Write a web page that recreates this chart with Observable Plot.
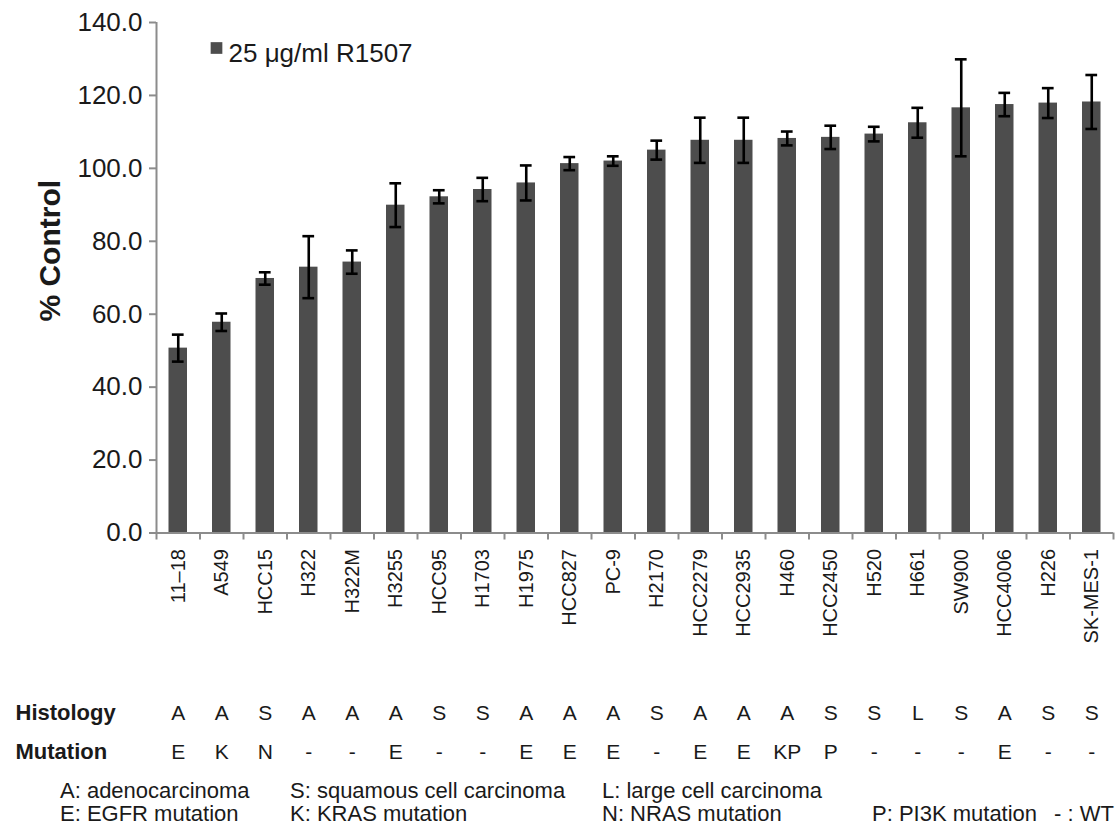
<!DOCTYPE html>
<html><head><meta charset="utf-8">
<script src="https://cdn.jsdelivr.net/npm/d3@7"></script>
<script src="https://cdn.jsdelivr.net/npm/@observablehq/plot@0.6"></script>
<style>
html,body{margin:0;padding:0;background:#fff;overflow:hidden;}
#wrap{position:relative;width:1119px;height:827px;font-family:"Liberation Sans",Arial,sans-serif;overflow:hidden;}
.foot{position:absolute;font-size:22px;color:#1a1a1a;white-space:nowrap;line-height:22px;}
</style></head><body><div id="wrap"></div>
<script>
const cellLines = ["11–18","A549","HCC15","H322","H322M","H3255","HCC95","H1703","H1975","HCC827","PC-9","H2170","HCC2279","HCC2935","H460","HCC2450","H520","H661","SW900","HCC4006","H226","SK-MES-1"];
const control = [50.7, 57.8, 69.8, 72.9, 74.3, 89.9, 92.2, 94.2, 96.0, 101.3, 102.0, 105.0, 107.7, 107.7, 108.2, 108.5, 109.4, 112.5, 116.6, 117.5, 117.9, 118.2];
const errorSD = [3.7, 2.4, 1.7, 8.5, 3.2, 6.0, 1.8, 3.2, 4.8, 1.8, 1.3, 2.6, 6.2, 6.2, 1.9, 3.2, 2.0, 4.1, 13.3, 3.2, 4.1, 7.4];
const histology = ["A","A","S","A","A","A","S","S","A","A","A","S","A","A","A","S","S","L","S","A","S","S"];
const mutation = ["E","K","N","-","-","E","-","-","E","E","E","-","E","E","KP","P","-","-","-","E","-","-"];
const yTicks = [0, 20, 40, 60, 80, 100, 120, 140];
const legendLabel = "25 μg/ml R1507";
const yLabel = "% Control";
const rowLabels = ["Histology", "Mutation"];
const footnoteRow1 = ["A: adenocarcinoma", "S: squamous cell carcinoma", "L: large cell carcinoma"];
const footnoteRow2 = ["E: EGFR mutation", "K: KRAS mutation", "N: NRAS mutation", "P: PI3K mutation", "- : WT"];

const rows = cellLines.map((name, i) => ({i, name, value: control[i], err: errorSD[i], hist: histology[i], mut: mutation[i]}));

const barFill = "#4d4d4d";
const axisGray = "#8c8c8c";
const ink = "#1a1a1a";
const cap = 0.135;
const font = '"Liberation Sans", Arial, sans-serif';

const chart = Plot.plot({
  width: 1119, height: 827,
  marginLeft: 156, marginRight: 6, marginTop: 22, marginBottom: 294.5,
  x: {domain: [0, cellLines.length]},
  y: {domain: [0, 140]},
  style: {fontFamily: font, color: ink, background: "#fff"},
  marks: [
    Plot.rectY(rows, {x1: "i", x2: d => d.i + 1, y: "value", fill: barFill, insetLeft: 12.5, insetRight: 12.5}),
    Plot.ruleX(rows, {x: d => d.i + 0.5, y1: d => d.value - d.err, y2: d => d.value + d.err, stroke: "#000", strokeWidth: 2.6}),
    Plot.ruleY(rows, {y: d => d.value + d.err, x1: d => d.i + 0.5 - cap, x2: d => d.i + 0.5 + cap, stroke: "#000", strokeWidth: 2.6}),
    Plot.ruleY(rows, {y: d => d.value - d.err, x1: d => d.i + 0.5 - cap, x2: d => d.i + 0.5 + cap, stroke: "#000", strokeWidth: 2.6}),
    Plot.ruleY([0], {stroke: axisGray, strokeWidth: 2}),
    Plot.ruleX([0], {stroke: axisGray, strokeWidth: 2}),
    Plot.axisY({ticks: yTicks, tickFormat: d => d.toFixed(1), tickSize: 7, tickPadding: 7, fontSize: 26, stroke: axisGray, strokeWidth: 2, fill: ink, label: null}),
    Plot.axisX({ticks: d3.range(cellLines.length + 1), tickFormat: () => "", tickSize: 7, stroke: axisGray, strokeWidth: 2, label: null}),
    Plot.text(rows, {x: d => d.i + 0.5, text: "name", frameAnchor: "bottom", rotate: -90, textAnchor: "end", lineAnchor: "middle", dy: 16, fontSize: 20, fill: ink}),
    Plot.text(rows, {x: d => d.i + 0.5, text: "hist", frameAnchor: "bottom", lineAnchor: "middle", dy: 180, fontSize: 21, fill: ink}),
    Plot.text(rows, {x: d => d.i + 0.5, text: "mut", frameAnchor: "bottom", lineAnchor: "middle", dy: 219, fontSize: 21, fill: ink}),
    Plot.text([rowLabels[0]], {frameAnchor: "bottom-left", textAnchor: "start", lineAnchor: "middle", dx: -141, dy: 180, fontSize: 22, fontWeight: "bold", fill: ink}),
    Plot.text([rowLabels[1]], {frameAnchor: "bottom-left", textAnchor: "start", lineAnchor: "middle", dx: -141, dy: 219, fontSize: 22, fontWeight: "bold", fill: ink}),
    Plot.text([yLabel], {frameAnchor: "left", rotate: -90, textAnchor: "middle", lineAnchor: "middle", dx: -106, dy: -27, fontSize: 30, fontWeight: "bold", fill: ink}),
    Plot.dot([legendLabel], {frameAnchor: "top-left", dx: 60, dy: 25.5, symbol: "square", r: 6.6, fill: barFill, stroke: null}),
    Plot.text([legendLabel], {frameAnchor: "top-left", textAnchor: "start", lineAnchor: "middle", dx: 72, dy: 31, fontSize: 26, fill: ink})
  ]
});

const wrap = document.getElementById("wrap");
wrap.appendChild(chart);

const footCols = [60, 290, 602, 872, 1054];
const footRowsTop = [780, 803];
[footnoteRow1, footnoteRow2].forEach((row, r) => {
  row.forEach((t, c) => {
    const s = document.createElement("div");
    s.className = "foot";
    s.textContent = t;
    s.style.left = footCols[c] + "px";
    s.style.top = footRowsTop[r] + "px";
    wrap.appendChild(s);
  });
});
</script>
</body></html>
